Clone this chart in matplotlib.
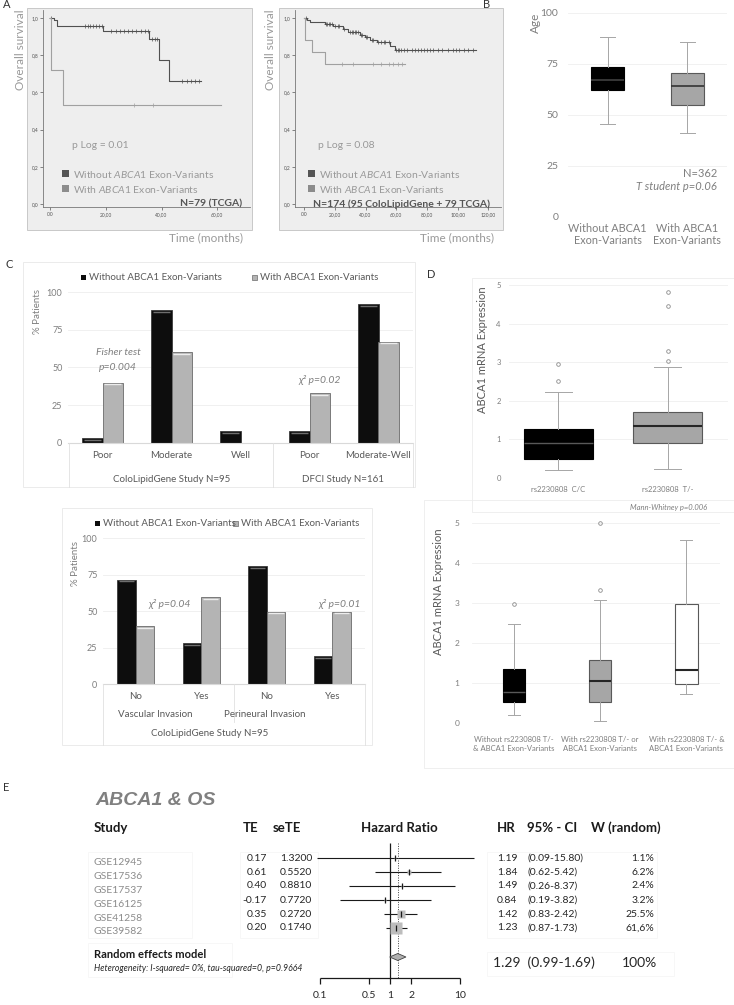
import numpy as np
import matplotlib
matplotlib.use('Agg')
import matplotlib.pyplot as plt
from matplotlib.patches import Rectangle
from matplotlib.lines import Line2D

# ---------------- data ----------------
# A: Kaplan-Meier, TCGA (N=79)
km1_without_t = [0, 1.5, 2.6, 19, 35.6, 39, 42.5]
km1_without_s = [1.0, 0.987, 0.955, 0.932, 0.887, 0.776, 0.664]
km1_without_end = 54
km1_without_cens = [0.5, 12.5, 13.5, 14.5, 15.5, 16.5, 17.5, 18.5, 22, 23.5, 25, 26.5, 28,
                    29.5, 31, 32.5, 34, 35, 36.5, 37.5, 38.5, 47.5, 49, 50.5, 52, 53.5]
km1_with_t = [0, 0.3, 4.8]
km1_with_s = [1.0, 0.718, 0.535]
km1_with_end = 61.3
km1_with_cens = [30, 37]

# A: Kaplan-Meier, ColoLipidGene + TCGA (N=174)
km2_without_t = [0, 1.7, 3.9, 13.7, 19.1, 25.6, 28.9, 36.5, 39.7, 43, 47.4, 56, 59.3]
km2_without_s = [1.0, 0.987, 0.977, 0.97, 0.955, 0.94, 0.925, 0.91, 0.9, 0.883, 0.87, 0.85, 0.83]
km2_without_end = 112
km2_without_cens = [1, 14, 15, 16, 17, 18, 20, 22, 23, 26, 30, 31, 32, 33, 34, 35, 37, 38, 40,
                    41, 44, 45, 48, 50, 52, 53, 55, 60, 61, 62, 63, 65, 67, 70, 72, 74, 76, 78,
                    80, 82, 84, 87, 90, 94, 97, 99, 101, 104, 107, 110]
km2_with_t = [0, 0.3, 5, 13.7]
km2_with_s = [1.0, 0.883, 0.817, 0.754]
km2_with_end = 65.8
km2_with_cens = [25, 32, 45, 50, 55, 58, 61, 64]

# B: age
age_labels = ['Without ABCA1\nExon-Variants', 'With ABCA1\nExon-Variants']
age_q1 = [62, 54.7]
age_med = [67, 64]
age_q3 = [73.5, 70.3]
age_lo = [45.5, 41.2]
age_hi = [88, 85.8]

# C top: grade
grade_cats = ['Poor', 'Moderate', 'Well', 'Poor', 'Moderate-Well']
grade_without = [3, 88, 8, 8, 92]
grade_with = [40, 60, 0, 33, 67]

# C bottom: invasion
inv_cats = ['No', 'Yes', 'No', 'Yes']
inv_without = [71.5, 28, 80.5, 19]
inv_with = [39.5, 59.5, 49.5, 49.5]

# D top: expression by genotype
geno_labels = ['rs2230808  C/C', 'rs2230808  T/-']
geno_q1 = [0.5, 0.9]
geno_med = [0.9, 1.34]
geno_q3 = [1.28, 1.70]
geno_lo = [0.22, 0.24]
geno_hi = [2.22, 2.87]
geno_out = [[2.5, 2.95], [3.02, 3.3, 4.45, 4.83]]

# D bottom: expression by combined status
comb_labels = ['Without rs2230808 T/-\n& ABCA1 Exon-Variants',
               'With rs2230808 T/- or\nABCA1 Exon-Variants',
               'With rs2230808 T/- &\nABCA1 Exon-Variants']
comb_q1 = [0.52, 0.52, 0.98]
comb_med = [0.78, 1.04, 1.32]
comb_q3 = [1.35, 1.58, 2.97]
comb_lo = [0.19, 0.04, 0.73]
comb_hi = [2.48, 3.07, 4.57]
comb_out = [[2.97], [3.33, 5.0], []]

# E: meta-analysis
studies = ['GSE12945', 'GSE17536', 'GSE17537', 'GSE16125', 'GSE41258', 'GSE39582']
te = ['0.17', '0.61', '0.40', '-0.17', '0.35', '0.20']
sete = ['1.3200', '0.5520', '0.8810', '0.7720', '0.2720', '0.1740']
hr = [1.19, 1.84, 1.49, 0.84, 1.42, 1.23]
ci_lo = [0.09, 0.62, 0.26, 0.19, 0.83, 0.87]
ci_hi = [15.80, 5.42, 8.37, 3.82, 2.42, 1.73]
weight = [1.1, 6.2, 2.4, 3.2, 25.5, 61.6]
weight_txt = ['1.1%', '6.2%', '2.4%', '3.2%', '25.5%', '61,6%']
pooled_hr, pooled_lo, pooled_hi = 1.29, 0.99, 1.69

# ---------------- layout helpers ----------------
plt.rcParams['font.family'] = ['Lato', 'DejaVu Sans']
plt.rcParams['mathtext.fontset'] = 'custom'
plt.rcParams['mathtext.rm'] = 'Lato'
plt.rcParams['mathtext.it'] = 'Lato:italic'
plt.rcParams['mathtext.bf'] = 'Lato:bold'

W, H = 734, 1005
fig = plt.figure(figsize=(W / 100, H / 100), dpi=100)
GREY = '#7f7f7f'
DARK = '#595959'


def box(x0, y0, x1, y1):
    return [x0 / W, 1 - y1 / H, (x1 - x0) / W, (y1 - y0) / H]


def txt(x, y, s, **kw):
    kw.setdefault('va', 'center')
    return fig.text(x / W, 1 - y / H, s, **kw)


def frame(x0, y0, x1, y1, fc='none', ec='#e8e8e8', lw=0.6, z=-1):
    fig.add_artist(Rectangle((x0 / W, 1 - y1 / H), (x1 - x0) / W, (y1 - y0) / H,
                             transform=fig.transFigure, fc=fc, ec=ec, lw=lw, zorder=z))


def fline(xs, ys, color='#e0e0e0', lw=0.6, **kw):
    fig.add_artist(Line2D([x / W for x in xs], [1 - y / H for y in ys],
                          transform=fig.transFigure, color=color, lw=lw, **kw))


# ---------------- A: Kaplan-Meier ----------------
def km_panel(fx0, fx1, ax0, ax1, xlim, xticks, curves, plog, lx, ntext, nx, ylx):
    frame(fx0, 8, fx1, 230, fc='#eeeeee', ec='#c8c8c8', lw=0.7)
    ax = fig.add_axes(box(ax0, 10, ax1, 207))
    ax.patch.set_visible(False)
    for t, s, end, cens, col in curves:
        t = np.array(t, float)
        s = np.array(s, float)
        ax.step(np.r_[t, end], np.r_[s, s[-1]], where='post', color=col, lw=0.8)
        c = np.array(cens, float)
        cy = s[np.searchsorted(t, c, side='right') - 1]
        ax.plot(c, cy, ls='none', marker='+', ms=3, mew=0.5, color=col)
    ax.set_xlim(*xlim)
    ax.set_ylim(-0.016, 1.043)
    ax.set_xticks(xticks)
    ax.set_xticklabels(['.00'] + ['%d,00' % v for v in xticks[1:]])
    ax.set_yticks([0, 0.2, 0.4, 0.6, 0.8, 1.0])
    ax.set_yticklabels(['0,0', '0,2', '0,4', '0,6', '0,8', '1,0'])
    ax.tick_params(labelsize=3.5, colors='#555555', length=2, width=0.5, pad=1.5)
    for sp in ['top', 'right']:
        ax.spines[sp].set_visible(False)
    for sp in ['left', 'bottom']:
        ax.spines[sp].set_color('#777777')
        ax.spines[sp].set_linewidth(0.6)
    txt(lx + 10, 145, plog, fontsize=7.5, color='#999999')
    frame(lx, 170.5, lx + 7, 177.5, fc='#555555', ec='none', z=2)
    frame(lx, 185.5, lx + 7, 192.5, fc='#8c8c8c', ec='none', z=2)
    txt(lx + 11, 174, 'Without $ABCA1$ Exon-Variants', fontsize=7.5, color='#999999')
    txt(lx + 11, 189, 'With $ABCA1$ Exon-Variants', fontsize=7.5, color='#999999')
    txt(nx, 204, ntext, fontsize=7.5, fontweight='bold', color='#555555', ha='right')
    txt(ylx, 50, 'Overall survival', fontsize=8.5, color='#999999', rotation=90, ha='center')
    txt(fx1 - 9, 238, 'Time (months)', fontsize=8.5, color='#999999', ha='right')


km_panel(27, 252, 43, 250, (-2.5, 71.7), [0, 20, 40, 60],
         [(km1_without_t, km1_without_s, km1_without_end, km1_without_cens, '#505050'),
          (km1_with_t, km1_with_s, km1_with_end, km1_with_cens, '#a0a0a0')],
         'p Log = 0.01', 62, 'N=79 (TCGA)', 242, 20.5)
km_panel(279, 503, 295, 501, (-5.9, 128.2), [0, 20, 40, 60, 80, 100, 120],
         [(km2_without_t, km2_without_s, km2_without_end, km2_without_cens, '#505050'),
          (km2_with_t, km2_with_s, km2_with_end, km2_with_cens, '#a0a0a0')],
         'p Log = 0.08', 308, 'N=174 (95 ColoLipidGene + 79 TCGA)', 490, 270)
txt(3, 5, 'A', fontsize=8, color='#333333')


# ---------------- B: age boxplot ----------------
def make_stats(q1, med, q3, lo, hi, out=None):
    st = []
    for i in range(len(med)):
        st.append(dict(q1=q1[i], med=med[i], q3=q3[i], whislo=lo[i], whishi=hi[i],
                       fliers=out[i] if out else []))
    return st


def style_box(bp, faces, edges, medcols, medlw, wcol='#a6a6a6'):
    for i, b in enumerate(bp['boxes']):
        b.set_facecolor(faces[i])
        b.set_edgecolor(edges[i])
        b.set_linewidth(0.8)
    for i, m in enumerate(bp['medians']):
        m.set_color(medcols[i])
        m.set_linewidth(medlw[i])
    for w in bp['whiskers'] + bp['caps']:
        w.set_color(wcol)
        w.set_linewidth(0.7)


def clean_axes(ax, grid='#efefef'):
    for sp in ax.spines.values():
        sp.set_visible(False)
    ax.yaxis.grid(True, color=grid, lw=0.6)
    ax.set_axisbelow(True)


axB = fig.add_axes(box(568, 12.7, 727, 217))
bp = axB.bxp(make_stats(age_q1, age_med, age_q3, age_lo, age_hi), positions=[0, 1],
             widths=0.42, capwidths=0.19, patch_artist=True, showfliers=False)
style_box(bp, ['#000000', '#a6a6a6'], ['#000000', '#595959'], ['#404040', '#333333'], [1.2, 1.2])
axB.set_xlim(-0.5, 1.5)
axB.set_ylim(0, 100)
axB.set_yticks([0, 25, 50, 75, 100])
axB.set_xticks([0, 1])
axB.set_xticklabels(age_labels, linespacing=1.15)
axB.tick_params(length=0, labelsize=7.8, colors=GREY, pad=4)
axB.tick_params(axis='y', labelsize=7.5, pad=7)
clean_axes(axB)
txt(717, 173, 'N=362', fontsize=8, color=GREY, ha='right')
txt(717, 187, 'T student p=0.06', fontsize=8, color=GREY, ha='right', style='italic')
txt(535, 23, 'Age', fontsize=8.5, color=GREY, rotation=90, ha='center')
txt(483, 5, 'B', fontsize=8, color='#333333')


# ---------------- C: bar charts ----------------
def bar_panel(ax, cats, v1, v2, w, pxu):
    x = np.arange(len(cats))
    b1 = ax.bar(x - w / 2, v1, w, color='#0d0d0d', edgecolor='#3c3c3c', lw=0.6, zorder=2)
    b2 = ax.bar(x + w / 2, v2, w, color='#b4b4b4', edgecolor='#6b6b6b', lw=0.6, zorder=2)
    for bb in list(b1) + list(b2):
        if bb.get_height() <= 0:
            bb.set_visible(False)
    v1 = np.array(v1, float)
    v2 = np.array(v2, float)
    m1 = v1 > 2
    m2 = v2 > 2
    off = 1.6 / pxu
    ax.hlines(v1[m1] - off, x[m1] - w + 0.02, x[m1] - 0.02, color='#6e6e6e', lw=1.0, zorder=3)
    ax.hlines(v2[m2] - off, x[m2] + 0.02, x[m2] + w - 0.02, color='#ececec', lw=1.0, zorder=3)
    ax.set_xlim(-0.5, len(cats) - 0.5)
    ax.set_ylim(0, 100)
    ax.set_yticks([0, 25, 50, 75, 100])
    ax.set_xticks(x)
    ax.set_xticklabels(cats)
    clean_axes(ax, '#eeeeee')
    ax.spines['bottom'].set_visible(True)
    ax.spines['bottom'].set_color('#d9d9d9')
    ax.tick_params(axis='y', length=0, labelsize=6.5, colors=GREY, pad=4)
    ax.tick_params(axis='x', length=0, labelsize=7, colors=DARK, pad=6)


def legend_c(x1, x2, y):
    frame(x1, y - 2.5, x1 + 5, y + 2.5, fc='#0d0d0d', ec='none', z=2)
    frame(x2, y - 2.5, x2 + 5, y + 2.5, fc='#b4b4b4', ec='#6b6b6b', lw=0.5, z=2)
    txt(x1 + 8, y, 'Without ABCA1 Exon-Variants', fontsize=7, color=DARK)
    txt(x2 + 8, y, 'With ABCA1 Exon-Variants', fontsize=7, color=DARK)


# C top
frame(23, 262, 415, 487)
axC1 = fig.add_axes(box(68, 292, 413, 443))
bar_panel(axC1, grade_cats, grade_without, grade_with, 0.29, 1.51)
legend_c(81, 252, 278)
for xx in [69, 273, 413]:
    fline([xx, xx], [443, 487])
txt(172, 479, 'ColoLipidGene Study N=95', fontsize=7, color=DARK, ha='center')
txt(343, 479, 'DFCI Study N=161', fontsize=7, color=DARK, ha='center')
txt(118, 352, 'Fisher test', fontsize=7.5, color=GREY, ha='center', style='italic')
txt(118, 367, 'p=0.004', fontsize=7.5, color=GREY, ha='center', style='italic')
txt(320, 380, 'χ² p=0.02', fontsize=7.5, color=GREY, ha='center', style='italic')
txt(38, 312, '% Patients', fontsize=7, color=GREY, rotation=90, ha='center')
txt(5, 265, 'C', fontsize=8, color='#333333')

# C bottom
frame(62, 508, 372, 745)
axC2 = fig.add_axes(box(103, 538, 365, 684))
bar_panel(axC2, inv_cats, inv_without, inv_with, 0.28, 1.46)
legend_c(95, 233, 523)
fline([103, 103], [684, 745])
fline([234, 234], [684, 722])
fline([365, 365], [684, 745])
txt(155, 714, 'Vascular Invasion', fontsize=7, color=DARK, ha='center')
txt(265, 714, 'Perineural Invasion', fontsize=7, color=DARK, ha='center')
txt(210, 733, 'ColoLipidGene Study N=95', fontsize=7, color=DARK, ha='center')
txt(170, 604, 'χ² p=0.04', fontsize=7.5, color=GREY, ha='center', style='italic')
txt(340, 604, 'χ² p=0.01', fontsize=7.5, color=GREY, ha='center', style='italic')
txt(76, 563, '% Patients', fontsize=7, color=GREY, rotation=90, ha='center')

# ---------------- D: expression boxplots ----------------
flier = dict(marker='o', ms=2.6, mfc='none', mec='#8c8c8c', mew=0.6, clip_on=False)

frame(472, 278, 734, 512, ec='#ececec')
axD1 = fig.add_axes(box(509, 285, 728, 478))
bp = axD1.bxp(make_stats(geno_q1, geno_med, geno_q3, geno_lo, geno_hi, geno_out),
              positions=[0, 1], widths=0.63, capwidths=0.25, patch_artist=True,
              flierprops=flier)
style_box(bp, ['#000000', '#a6a6a6'], ['#000000', '#595959'], ['#595959', '#262626'], [1.0, 1.5])
axD1.set_xlim(-0.45, 1.55)
axD1.set_ylim(0, 5)
axD1.set_xticks([0, 1])
axD1.set_xticklabels(geno_labels)
clean_axes(axD1)
axD1.tick_params(length=0, labelsize=5.5, colors=GREY)
axD1.tick_params(axis='x', pad=5.5)
axD1.tick_params(axis='y', pad=6)
txt(707, 507, 'Mann-Whitney p=0.006', fontsize=5.5, color=GREY, ha='right', style='italic')
txt(482, 350, 'ABCA1 mRNA Expression', fontsize=8, color=DARK, rotation=90, ha='center')
txt(427, 275, 'D', fontsize=8, color='#333333')

frame(424, 500, 734, 768, ec='#ececec')
axD2 = fig.add_axes(box(472, 523, 720, 723))
bp = axD2.bxp(make_stats(comb_q1, comb_med, comb_q3, comb_lo, comb_hi, comb_out),
              positions=[0, 1, 2], widths=0.26, capwidths=0.14, patch_artist=True,
              flierprops=flier)
style_box(bp, ['#000000', '#a6a6a6', '#ffffff'], ['#000000', '#595959', '#595959'],
          ['#595959', '#262626', '#262626'], [1.0, 1.5, 1.5])
axD2.set_xlim(-0.487, 2.39)
axD2.set_ylim(0, 5)
axD2.set_xticks([0, 1, 2])
axD2.set_xticklabels(comb_labels, linespacing=1.35)
clean_axes(axD2)
axD2.tick_params(length=0, labelsize=5.5, colors=GREY)
axD2.tick_params(axis='x', pad=9)
axD2.tick_params(axis='y', labelsize=6, pad=9)
txt(438, 592, 'ABCA1 mRNA Expression', fontsize=8, color=DARK, rotation=90, ha='center')

# ---------------- E: forest plot ----------------
txt(3, 787, 'E', fontsize=8, color='#333333')
txt(95, 800, 'ABCA1 & OS', fontsize=14, color='#808080', fontweight='bold',
    style='italic', family='Liberation Sans')
for s, x, ha in [('Study', 94, 'left'), ('TE', 243, 'left'), ('seTE', 273, 'left'),
                 ('Hazard Ratio', 399, 'center'), ('HR', 497, 'left'),
                 ('95% - CI', 527, 'left'), ('W (random)', 591, 'left')]:
    txt(x, 828, s, fontsize=9.5, fontweight='bold', color='#1a1a1a', ha=ha)

for fx in [(88, 852, 192, 938), (240, 852, 318, 938), (487, 852, 657, 938),
           (88, 943, 232, 977), (487, 952, 674, 976)]:
    frame(*fx, ec='#f6f6f6')

row0, dy = 858, 14
for i in range(len(studies)):
    y = row0 + dy * i
    txt(94, y + 4, studies[i], fontsize=7.5, color='#8c8c8c')
    txt(267, y, te[i], fontsize=7.5, color='#262626', ha='right')
    txt(280, y, sete[i], fontsize=7.5, color='#262626')
    txt(497, y, '%.2f' % hr[i], fontsize=7.5, color='#262626')
    txt(527, y, '(%.2f-%.2f)' % (ci_lo[i], ci_hi[i]), fontsize=7.5, color='#262626')
    txt(654, y, weight_txt[i], fontsize=7.5, color='#262626', ha='right')
txt(94, 954, 'Random effects model', fontsize=8, fontweight='bold', color='#1a1a1a')
txt(94, 968, 'Heterogeneity: I-squared= 0%, tau-squared=0, p=0.9664', fontsize=6.3,
    style='italic', color='#262626')
txt(493, 963, '%.2f  (%.2f-%.2f)' % (pooled_hr, pooled_lo, pooled_hi), fontsize=10,
    color='#262626')
txt(657, 963, '100%', fontsize=10, color='#262626', ha='right')


def row(px):
    return (px - row0) / dy


axE = fig.add_axes(box(300, 840, 480, 1003))
axE.set_xscale('log')
axE.set_xlim(10 ** -1.286, 10 ** 1.286)
axE.set_ylim(row(1003), row(840))
axE.axis('off')
rows = np.arange(len(studies))
axE.hlines(rows, ci_lo, ci_hi, color='#1a1a1a', lw=0.8)
for i in rows:
    axE.plot(hr[i], i, marker='s', ms=1.16 * np.sqrt(weight[i]), color='#bdbdbd',
             mec='none', ls='none', zorder=3)
axE.plot(hr, rows, marker='|', ms=4, mew=0.9, color='#1a1a1a', ls='none', zorder=4)
yd = row(957)
hd = 3.5 / dy
axE.fill([pooled_lo, pooled_hr, pooled_hi, pooled_hr], [yd, yd - hd, yd, yd + hd],
         fc='#b0b0b0', ec='#404040', lw=0.6, zorder=3)
yax = row(978)
axE.vlines(1, row(843), yax, color='#1a1a1a', lw=0.9)
axE.vlines(pooled_hr, row(843), yax, color='#404040', lw=0.7, linestyles=(0, (1, 1.5)))
ticks = [0.1, 0.5, 1, 2, 10]
axE.hlines(yax, 0.1, 10, color='#1a1a1a', lw=0.9)
axE.vlines(ticks, yax, row(984), color='#1a1a1a', lw=0.9)
for tk in ticks:
    axE.text(tk, row(995), '%g' % tk, ha='center', va='center', fontsize=7.5, color='#262626')

fig.savefig('out.png', dpi=100)
